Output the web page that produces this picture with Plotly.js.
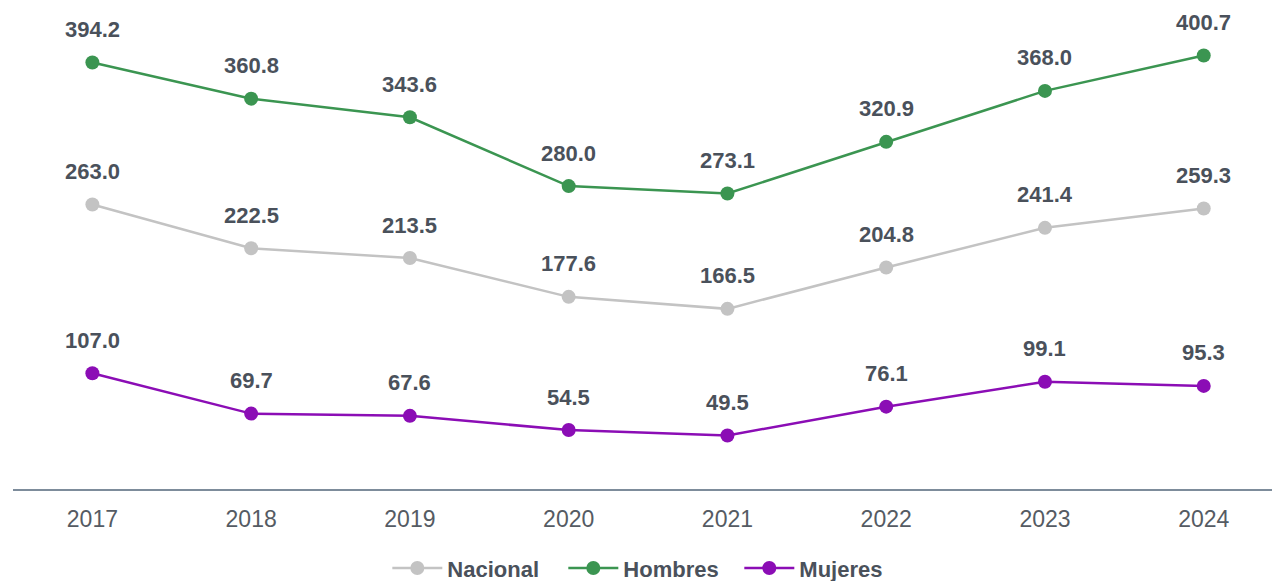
<!DOCTYPE html>
<html><head><meta charset="utf-8">
<script src="https://cdn.plot.ly/plotly-3.0.1.min.js"></script>
<style>body{margin:0;padding:0;background:#fff}#chart{width:1272px;height:581px}</style>
</head><body><div id="chart"></div>
<script>
const years = ['2017','2018','2019','2020','2021','2022','2023','2024'];
const nacional = [263.0,222.5,213.5,177.6,166.5,204.8,241.4,259.3];
const hombres = [394.2,360.8,343.6,280.0,273.1,320.9,368.0,400.7];
const mujeres = [107.0,69.7,67.6,54.5,49.5,76.1,99.1,95.3];

const series = [
  {name:'Nacional', y:nacional, color:'#c3c3c3'},
  {name:'Hombres', y:hombres, color:'#3b9551'},
  {name:'Mujeres', y:mujeres, color:'#8b0db5'}
];
const traces = series.map(s => ({
  type:'scatter', mode:'lines+markers', name:s.name, x:years, y:s.y,
  line:{color:s.color, width:2.5}, marker:{color:s.color, size:14},
  hoverinfo:'skip'
}));
const annotations = [];
series.forEach(s => s.y.forEach((v,i) => annotations.push({
  x:i, y:v, xref:'x', yref:'y', text:v.toFixed(1), showarrow:false,
  yshift:33, font:{family:'Liberation Sans, Arial, sans-serif', size:22, color:'#4a515b', weight:'bold'}
})));
const layout = {
  width:1272, height:581,
  margin:{l:13, r:0, t:0, b:92},
  paper_bgcolor:'#fff', plot_bgcolor:'#fff',
  font:{family:'Liberation Sans, Arial, sans-serif'},
  showlegend:true,
  legend:{orientation:'h', x:0.507, xanchor:'center', yref:'container', y:0.022, yanchor:'middle',
    font:{size:22, color:'#4a515b', weight:'bold'}, itemwidth:50, tracegroupgap:0,
    entrywidth:111, entrywidthmode:'pixels'},
  xaxis:{type:'category', range:[-0.5,7.43], showgrid:false, zeroline:false,
    showline:true, linecolor:'#7d8c9b', linewidth:2,
    ticks:'outside', ticklen:8, tickcolor:'rgba(0,0,0,0)',
    tickfont:{size:23, color:'#555b63'}},
  yaxis:{range:[0,452], visible:false, showgrid:false, zeroline:false, fixedrange:true},
  annotations:annotations
};
Plotly.newPlot('chart', traces, layout, {displayModeBar:false, staticPlot:true});
</script></body></html>
